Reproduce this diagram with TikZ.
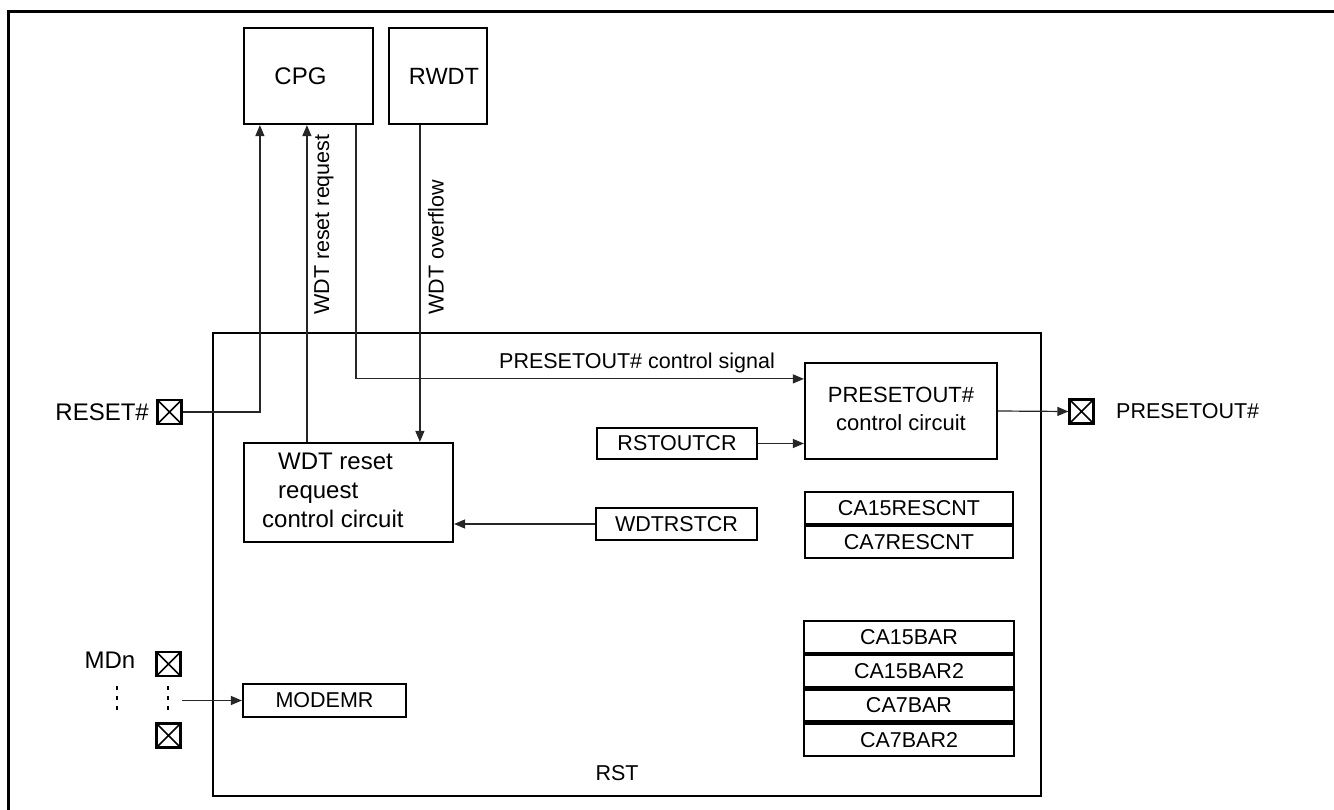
\documentclass[tikz,border=0pt]{standalone}
\usepackage{fontspec}
\setmainfont{Liberation Sans}
\usetikzlibrary{arrows.meta}
\begin{document}
\begin{tikzpicture}[x=1pt,y=-1pt,
  font=\fontsize{21.5}{28}\selectfont,
  big/.style={font=\fontsize{24}{29}\selectfont},
  blk/.style={draw=black, line width=2.2pt, inner sep=0pt, align=center},
  reg/.style={blk, minimum height=32pt},
  pad/.style={draw=black, line width=2.2pt, minimum size=24pt, inner sep=0pt,
    path picture={\draw[line width=1.6pt]
      (path picture bounding box.north west) -- (path picture bounding box.south east)
      (path picture bounding box.north east) -- (path picture bounding box.south west);}},
  wire/.style={draw=black!85, line width=1.2pt},
  arr/.style={wire, -{Triangle[length=11pt,width=9pt]}},
  txt/.style={inner sep=0pt},
  vdots/.style={line width=2.6pt, dash pattern=on 4pt off 6pt}
]
\useasboundingbox (0,0) rectangle (1334,810);
\fill[white] (0,0) rectangle (1334,810);

% page frame (top and left edges)
\draw[line width=3pt] (8,810) -- (8,12) -- (1334,12);

% outside blocks
\node[blk, big, minimum width=129pt, minimum height=96pt] (cpg) at (308.5,76) {\hspace*{-16pt}CPG};
\node[blk, font=\fontsize{23.5}{28}\selectfont, minimum width=98pt, minimum height=96pt] (rwdt) at (438,76) {\hspace*{12pt}RWDT};

% RST module
\node[blk, minimum width=828pt, minimum height=463pt] (rst) at (627,564.5) {};
\node[txt] (rstlbl) at (617,773) {RST};

% internal blocks
\node[blk, minimum width=209pt, minimum height=99pt] (wdt) at (348.5,492.5) {};
\node[txt, big, anchor=west] (wdttxt) at (262,492.5)
  {\begin{tabular}{@{}l@{}}\hspace*{16pt}WDT reset\\\hspace*{16pt}request\\control circuit\end{tabular}};
\node[blk, font=\fontsize{22}{28}\selectfont, minimum width=192pt, minimum height=96pt] (pco) at (901,411)
  {\begin{tabular}{@{}c@{}}PRESETOUT\#\\control circuit\end{tabular}};
\node[blk, minimum width=160pt, minimum height=31pt] (rstoutcr) at (677,443.5) {RSTOUTCR};
\node[blk, minimum width=161pt, minimum height=32pt] (wdtrstcr) at (676.5,524) {WDTRSTCR};
\node[blk, minimum width=163pt, minimum height=33pt] (modemr) at (324.5,700.5) {MODEMR};

% register stacks
\node[reg, minimum width=208pt] (ca15rescnt) at (909,508) {CA15RESCNT};
\node[reg, minimum width=208pt, anchor=north] (ca7rescnt) at (ca15rescnt.south) {CA7RESCNT};
\node[reg, minimum width=210pt] (ca15bar) at (909,637) {CA15BAR};
\node[reg, minimum width=210pt, anchor=north] (ca15bar2) at (ca15bar.south) {CA15BAR2};
\node[reg, minimum width=210pt, anchor=north] (ca7bar) at (ca15bar2.south) {CA7BAR};
\node[reg, minimum width=210pt, anchor=north] (ca7bar2) at (ca7bar.south) {CA7BAR2};

% pins
\node[pad] (resetpad) at (169.5,412) {};
\node[txt, big, anchor=east] (resetlbl) at (149,412) {RESET\#};
\node[pad] (outpad) at (1081.5,411.5) {};
\node[txt, anchor=west] (outlbl) at (1116,411.5) {PRESETOUT\#};
\node[pad] (mdpad1) at (168.5,664) {};
\node[pad] (mdpad2) at (168.5,735.5) {};
\node[txt, big] (mdlbl) at (110,660) {MDn};
\draw[vdots] (117,686) -- (117,711);
\draw[vdots] (168,686) -- (168,711);
\coordinate (mdsrc) at (182,700.5);

% connections
\draw[arr] (resetpad.east) -| ([xshift=17pt]cpg.south west);
\draw[arr] ([xshift=64pt]wdt.north west) -- ([xshift=64pt]cpg.south west);
\node[txt, rotate=90, anchor=west] (reqlbl) at (324,315) {WDT reset request};
\draw[arr] ([xshift=113pt]cpg.south west) |- ([yshift=-17pt]pco.north west);
\node[txt] (ctllbl) at (637,363) {PRESETOUT\# control signal};
\draw[arr] ([xshift=32pt]rwdt.south west) -- ([xshift=177pt]wdt.north west);
\node[txt, rotate=90, anchor=west] (ovflbl) at (436,315) {WDT overflow};
\draw[arr] (rstoutcr.east) -- (pco.west |- rstoutcr.east);
\draw[arr] (wdtrstcr.west) -- (wdt.east |- wdtrstcr.west);
\draw[arr] (pco.east) -- (outpad.west);
\draw[arr] (mdsrc) -- (modemr.west);
\end{tikzpicture}
\end{document}
